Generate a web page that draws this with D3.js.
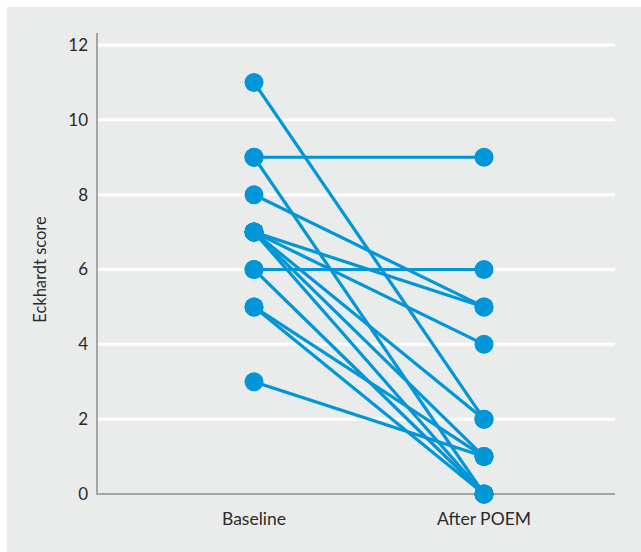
<!DOCTYPE html>
<html lang="en">
<head>
	<meta charset="UTF-8"/>
	<title>Eckhardt score before and after POEM</title>
	<script src="https://d3js.org/d3.v7.min.js"></script>
	<style>
		body { margin: 0; background: #fff; }
		text { font-family: Lato, "Open Sans", sans-serif; fill: #2a2a2a; }
	</style>
</head>
<body>
	<script>
		// one entry per patient, baseline -> after POEM
		var groups = ["Baseline", "After POEM"];
		var baseline  = [11, 9, 9, 8, 7, 7, 7, 7, 7, 6, 6, 5, 5, 3];
		var afterPoem = [2, 9, 0, 5, 5, 4, 2, 1, 0, 6, 0, 1, 0, 1];
		var yTicks = [0, 2, 4, 6, 8, 10, 12];

		var w = 641;
		var h = 552;
		var blue = "#0096d7";

		var svg = d3.select("body")
					.append("svg")
					.attr("width", w)
					.attr("height", h);

		// grey panel
		svg.append("rect")
			.attr("x", 7)
			.attr("y", 7)
			.attr("width", w - 7)
			.attr("height", h - 7)
			.attr("fill", "#eaecec");

		var plotLeft = 97, plotRight = 615, plotTop = 45, plotBottom = 494;

		var yScale = d3.scaleLinear()
						.domain([0, 12])
						.range([plotBottom, plotTop]);

		var xScale = d3.scalePoint()
						.domain(groups)
						.range([254, 484]);

		// white gridlines
		svg.selectAll("line.grid")
			.data(yTicks.filter(function(d){ return d > 0; }))
			.enter()
			.append("line")
			.attr("class", "grid")
			.attr("x1", plotLeft)
			.attr("x2", plotRight)
			.attr("y1", function(d){ return yScale(d); })
			.attr("y2", function(d){ return yScale(d); })
			.attr("stroke", "#fff")
			.attr("stroke-width", 3);

		// axis lines
		svg.append("line")
			.attr("x1", plotLeft).attr("x2", plotLeft)
			.attr("y1", 33).attr("y2", plotBottom)
			.attr("stroke", "#a3a5a7")
			.attr("stroke-width", 2);
		svg.append("line")
			.attr("x1", plotLeft - 1).attr("x2", plotRight)
			.attr("y1", plotBottom).attr("y2", plotBottom)
			.attr("stroke", "#a3a5a7")
			.attr("stroke-width", 2);

		// y tick labels
		svg.selectAll("text.ytick")
			.data(yTicks)
			.enter()
			.append("text")
			.attr("class", "ytick")
			.attr("x", 88)
			.attr("y", function(d){ return yScale(d); })
			.attr("dy", "0.35em")
			.attr("text-anchor", "end")
			.attr("font-size", 17)
			.text(function(d){ return d; });

		// y title
		svg.append("text")
			.attr("transform", "translate(46," + yScale(6) + ") rotate(-90)")
			.attr("text-anchor", "middle")
			.attr("font-size", 16.5)
			.text("Eckhardt score");

		// x labels
		svg.selectAll("text.xlab")
			.data(groups)
			.enter()
			.append("text")
			.attr("class", "xlab")
			.attr("x", function(d){ return xScale(d); })
			.attr("y", 525)
			.attr("text-anchor", "middle")
			.attr("font-size", 17.5)
			.text(function(d){ return d; });

		// patient lines
		svg.selectAll("line.patient")
			.data(baseline)
			.enter()
			.append("line")
			.attr("class", "patient")
			.attr("x1", xScale(groups[0]))
			.attr("x2", xScale(groups[1]))
			.attr("y1", function(d){ return yScale(d); })
			.attr("y2", function(d, i){ return yScale(afterPoem[i]); })
			.attr("stroke", blue)
			.attr("stroke-width", 3.2);

		// points
		svg.selectAll("circle.base")
			.data(baseline)
			.enter()
			.append("circle")
			.attr("class", "base")
			.attr("cx", xScale(groups[0]))
			.attr("cy", function(d){ return yScale(d); })
			.attr("r", 9.5)
			.attr("fill", blue);
		svg.selectAll("circle.after")
			.data(afterPoem)
			.enter()
			.append("circle")
			.attr("class", "after")
			.attr("cx", xScale(groups[1]))
			.attr("cy", function(d){ return yScale(d); })
			.attr("r", 9.5)
			.attr("fill", blue);
	</script>
</body>
</html>
